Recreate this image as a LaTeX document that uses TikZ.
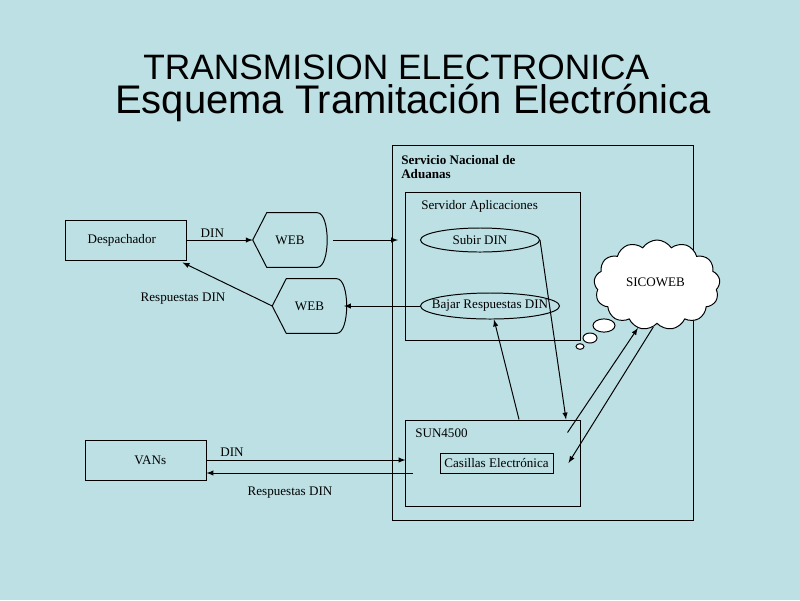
\documentclass[tikz,border=0pt]{standalone}
\usepackage{fontspec}
\setmainfont{Liberation Serif}
\newfontfamily\titlefont{Liberation Sans}
\usetikzlibrary{arrows,shapes.geometric,shapes.symbols}
\definecolor{slidebg}{RGB}{188,224,228}

\tikzset{
	small/.style={font=\fontsize{9.3}{10}\selectfont},
	box/.style={draw,line width=0.7pt,small,inner sep=0pt},
	webnode/.style={small,minimum width=1.85cm,minimum height=1.35cm,inner sep=0pt},
	oval/.style={draw,ellipse,line width=0.7pt,inner sep=0pt},
	conn/.style={->,line width=0.7pt}
}

\begin{document}
\begin{tikzpicture}[x=0.025cm,y=-0.025cm,>=latex]
	% background of the slide
	\fill[slidebg] (0,0) rectangle (800,600);
	\useasboundingbox (0,0) rectangle (800,600);

	% the titles
	\node[anchor=base west,inner sep=0pt,text depth=0pt,font=\titlefont\fontsize{25.1}{25}\selectfont] (title) at (143,79) {TRANSMISION ELECTRONICA};
	\node[anchor=base west,inner sep=0pt,text height=18pt,font=\titlefont\fontsize{28.4}{28}\selectfont] (subtitle) at (115,113) {Esquema Tramitación Electrónica};

	% the outer boxes
	\node[box,minimum width=7.5cm,minimum height=9.35cm] (aduanas) at (543,333) {};
	\node[anchor=north west,align=left,small,font=\bfseries\fontsize{9.3}{10}\selectfont,inner sep=0pt] (aduanaslbl) at (401,155.5) {Servicio Nacional de\\Aduanas};
	\node[box,minimum width=4.35cm,minimum height=3.675cm] (servidor) at (493,266.5) {};
	\node[anchor=west,small,inner sep=0pt] (servidorlbl) at (421,206) {Servidor Aplicaciones};
	\node[box,minimum width=4.35cm,minimum height=2.15cm] (sun) at (493,463) {};
	\node[anchor=west,small,inner sep=0pt] (sunlbl) at (415,433) {SUN4500};
	\node[box,minimum width=2.825cm,minimum height=0.5cm] (casillas) at (496.5,463) {Casillas Electrónica};

	% the two ovals
	\node[oval,minimum width=2.975cm,minimum height=0.6cm,label={[small]center:Subir DIN}] (subir) at (480,240) {};
	\node[oval,minimum width=3.475cm,minimum height=0.65cm,label={[small]center:Bajar Respuestas DIN}] (bajar) at (490,306) {};

	% the outside boxes
	\node[box,minimum width=3cm,minimum height=1cm] (desp) at (126,240) {\hspace*{-6pt}Despachador};
	\node[box,minimum width=3cm,minimum height=1cm] (vans) at (146,460) {\hspace*{6pt}VANs};

	% the web pages
	\node[webnode] (web1) at (290,240) {WEB};
	\node[webnode] (web2) at (309.5,306) {WEB};
	\foreach \w in {web1,web2}
		\draw[line width=0.7pt] (\w.west) -- ([xshift=0.35cm]\w.north west) -- ([xshift=-0.25cm]\w.north east)
			.. controls ([xshift=0.08cm]\w.north east) and ([xshift=0.08cm]\w.south east) .. ([xshift=-0.25cm]\w.south east)
			-- ([xshift=0.35cm]\w.south west) -- cycle;

	% the cloud and its bubbles
	\node[cloud,draw,fill=white,line width=0.7pt,cloud puffs=13,cloud puff arc=115,aspect=1.4,
		minimum width=3.15cm,minimum height=2.25cm,inner sep=0pt,small] (sico) at (657,285) {};
	\node[small] (sicolbl) at (655.5,282) {SICOWEB};
	\filldraw[fill=white,line width=0.7pt] (604,325.5) ellipse [x radius=0.275cm,y radius=0.165cm];
	\filldraw[fill=white,line width=0.7pt] (590,338) ellipse [x radius=0.175cm,y radius=0.125cm];
	\filldraw[fill=white,line width=0.7pt] (580,346.5) ellipse [x radius=0.1cm,y radius=0.07cm];

	% free ends inside the boxes
	\coordinate (webin) at (398,240);
	\coordinate (sunout) at (413,473);

	% the connectors
	\draw[conn] (desp.east) -- (web1.west) node[pos=0.39,above,small,inner sep=1.5pt] (dinlbl) {DIN};
	\draw[conn,shorten <=0.15cm] (web1.east) -- (webin);
	\draw[conn] (bajar.west) -- ([xshift=-0.07cm]web2.east);
	\draw[conn] (web2.west) -- ([xshift=-0.1cm,yshift=-0.05cm]desp.south east);
	\draw (183,299) node[small] (resplbl) {Respuestas DIN};

	\draw[conn] (vans.east) -- (vans.east -| sun.west);
	\draw[conn] (sunout) -- (sunout -| vans.east);
	\draw (232,452) node[small] (dinvans) {DIN}
		(290,493) node[small] (respvans) {Respuestas DIN};

	\draw[conn] (subir.east) -- ([xshift=1.825cm]sun.north);
	\draw[conn] ([xshift=0.65cm]sun.north) -- ([xshift=0.1cm]bajar.south);
	\draw[conn] ([xshift=-0.325cm,yshift=-0.325cm]sun.north east) -- (sico.246);
	\draw[conn] (sico.265) -- ([xshift=0.375cm]casillas.east);
\end{tikzpicture}
\end{document}
